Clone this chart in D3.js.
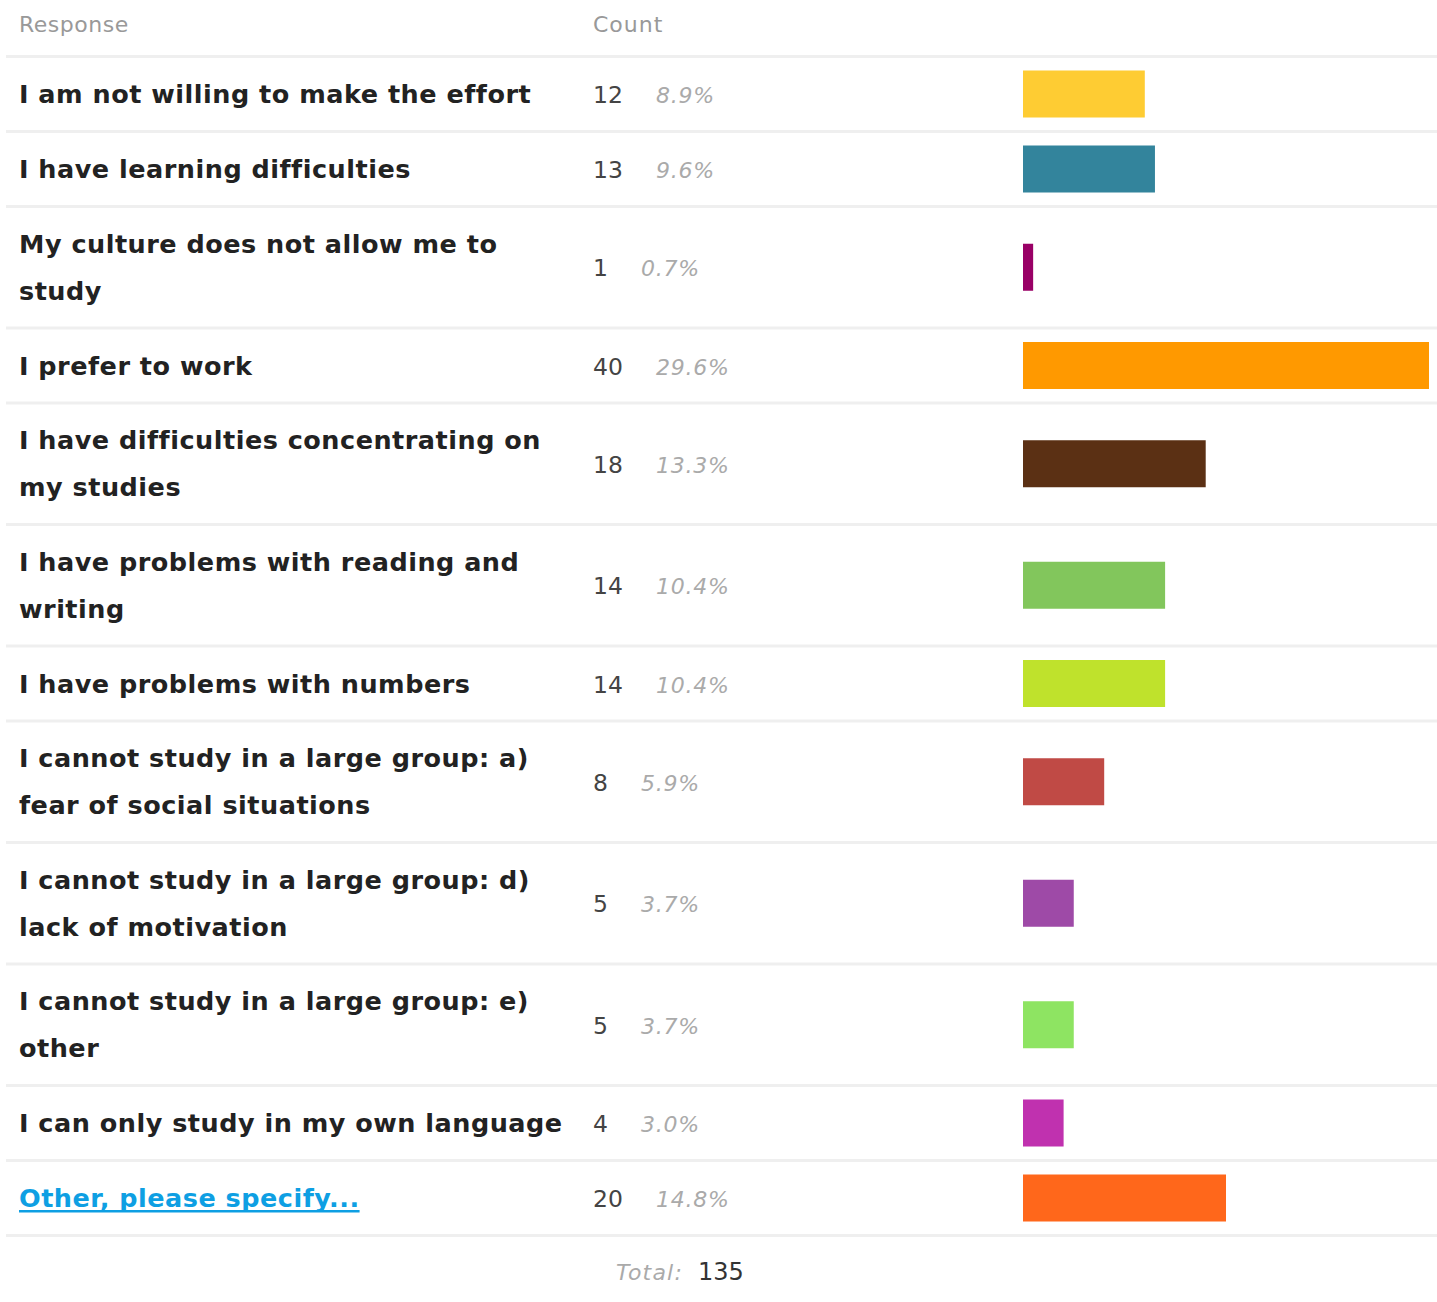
<!DOCTYPE html>
<html>
<head>
<meta charset="utf-8">
<script src="https://cdn.jsdelivr.net/npm/d3@7"></script>
<style>
  html, body { margin: 0; padding: 0; background: #fff; }
  svg { display: block; }
</style>
</head>
<body>
<svg id="chart" width="1437" height="1302"></svg>
<script>
const headers = ["Response", "Count"];
const labels = [
  "I am not willing to make the effort",
  "I have learning difficulties",
  "My culture does not allow me to\nstudy",
  "I prefer to work",
  "I have difficulties concentrating on\nmy studies",
  "I have problems with reading and\nwriting",
  "I have problems with numbers",
  "I cannot study in a large group: a)\nfear of social situations",
  "I cannot study in a large group: d)\nlack of motivation",
  "I cannot study in a large group: e)\nother",
  "I can only study in my own language",
  "Other, please specify..."
];
const counts = [12, 13, 1, 40, 18, 14, 14, 8, 5, 5, 4, 20];
const percents = ["8.9%", "9.6%", "0.7%", "29.6%", "13.3%", "10.4%", "10.4%", "5.9%", "3.7%", "3.7%", "3.0%", "14.8%"];
const colors = ["#FECC33", "#33849C", "#990066", "#FF9900", "#5B3014", "#82C65C",
                "#BFE22C", "#C04A45", "#9E4AA7", "#8EE462", "#C031AF", "#FF671B"];
const totalLabel = "Total:";
const total = 135;

const svg = d3.select("#chart");
const W = 1437;
const FONT = "'DejaVu Sans', Verdana, sans-serif";

// layout
const left = 6, headerLineY = 55, lineH = 3;
const singleH = 72, extraLine = 46.5;
const rows = labels.map((l, i) => ({label: l, lines: l.split("\n"), count: counts[i], pct: percents[i], color: colors[i], i}));
let y = headerLineY + lineH;
rows.forEach(r => {
  r.h = singleH + (r.lines.length - 1) * extraLine;
  r.top = y;
  r.cy = y + r.h / 2;
  y += r.h + lineH;
});

const x = d3.scaleLinear().domain([0, 40]).range([1023, 1429]);

// header
svg.append("text").attr("x", 19).attr("y", 32).text(headers[0])
  .attr("font-family", FONT).attr("font-size", 22).attr("letter-spacing", 0.5).attr("fill", "#999");
svg.append("text").attr("x", 593).attr("y", 32).text(headers[1])
  .attr("font-family", FONT).attr("font-size", 22).attr("letter-spacing", 1).attr("fill", "#999");

// separator lines
const lineYs = [headerLineY].concat(rows.map(r => r.top + r.h));
svg.selectAll("rect.sep").data(lineYs).join("rect").attr("class", "sep")
  .attr("x", left).attr("width", W - left).attr("y", d => d).attr("height", lineH)
  .attr("fill", "#efefef");

const g = svg.selectAll("g.row").data(rows).join("g").attr("class", "row");

g.each(function(r) {
  const sel = d3.select(this);
  const n = r.lines.length;
  const isLink = r.i === rows.length - 1;
  const t = sel.append("text")
    .attr("font-family", FONT).attr("font-weight", "bold").attr("font-size", 25.5)
    .attr("letter-spacing", 0.5)
    .attr("fill", isLink ? "#0E9FE3" : "#222");
  r.lines.forEach((ln, k) => {
    t.append("tspan").attr("x", 19)
      .attr("y", r.cy + 9 + (k - (n - 1) / 2) * 47)
      .text(ln);
  });
  if (isLink) {
    const len = t.node().getComputedTextLength();
    sel.append("rect").attr("x", 19).attr("y", r.cy + 12).attr("width", len).attr("height", 2.5).attr("fill", "#0E9FE3");
  }
  // count
  const c = sel.append("text").attr("x", 593).attr("y", r.cy + 9)
    .attr("font-family", FONT).attr("font-size", 23.5).attr("fill", "#444").text(r.count);
  const cl = c.node().getComputedTextLength();
  sel.append("text").attr("x", 593 + cl + 33).attr("y", r.cy + 9)
    .attr("font-family", FONT).attr("font-style", "italic").attr("font-size", 22)
    .attr("letter-spacing", 0.8).attr("fill", "#aaa").text(r.pct);
  // bar
  sel.append("rect").attr("x", x(0)).attr("width", x(r.count) - x(0))
    .attr("y", r.cy - 23.5).attr("height", 47).attr("fill", r.color);
});

// total
const lastLine = lineYs[lineYs.length - 1];
svg.append("text").attr("x", 616).attr("y", lastLine + 46)
  .attr("font-family", FONT).attr("font-style", "italic").attr("font-size", 22)
  .attr("letter-spacing", 1.2).attr("fill", "#aaa").text(totalLabel);
svg.append("text").attr("x", 698).attr("y", lastLine + 46)
  .attr("font-family", FONT).attr("font-size", 24).attr("fill", "#333").text(total);
</script>
</body>
</html>
